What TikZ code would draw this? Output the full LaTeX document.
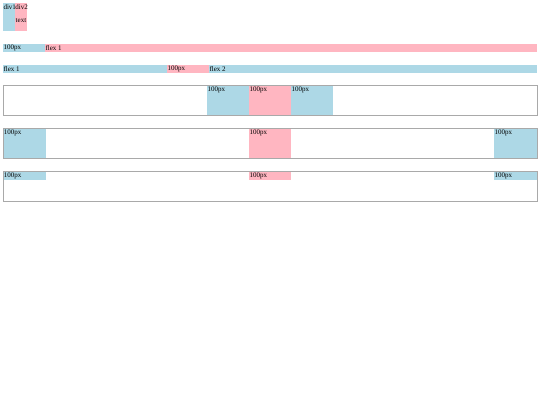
\documentclass[tikz,border=0pt]{standalone}
\usepackage{fontspec}
\setmainfont{Liberation Serif}
\definecolor{lb}{HTML}{ADD8E6}
\definecolor{lp}{HTML}{FFB6C1}
\definecolor{bd}{HTML}{A9A9A9}
\newcommand\bx[7]{%
  \node[blk, fill=#6, minimum width=#4pt, minimum height=#5pt] (#1) at (#2,#3) {};
  \node[txt] (#1t) at ([shift={(0.3,1)}]#1.north west) {#7};}
\begin{document}
\begin{tikzpicture}[x=1pt,y=-1pt,
  blk/.style={rectangle, inner sep=0, outer sep=0, anchor=north west, draw=none},
  txt/.style={anchor=north west, inner sep=0, font=\fontsize{7}{8}\selectfont},
  frame/.style={rectangle, inner sep=0, outer sep=0, anchor=north west, draw=bd, line width=0.8pt}]
\useasboundingbox (0,0) rectangle (540,405);
% row 1
\bx{d1}{3}{3}{12}{28}{lb}{div1}
\bx{d2}{15}{3}{12}{28}{lp}{div2}
\node[txt] (d2b) at (15.5,18.5) {text};
% row 2
\bx{r2a}{3}{44}{42}{8}{lb}{100px}
\bx{r2b}{45}{44}{492}{8}{lp}{flex 1}
% row 3
\bx{r3a}{3}{65}{164}{8}{lb}{flex 1}
\bx{r3b}{167}{65}{42}{8}{lp}{100px}
\bx{r3c}{209}{65}{328}{8}{lb}{flex 2}
% row 4
\node[frame, minimum width=534pt, minimum height=30pt] (f4) at (3,85.5) {};
\bx{r4a}{207}{86}{42}{29}{lb}{100px}
\bx{r4b}{249}{86}{42}{29}{lp}{100px}
\bx{r4c}{291}{86}{42}{29}{lb}{100px}
% row 5
\node[frame, minimum width=534pt, minimum height=30pt] (f5) at (3,128.5) {};
\bx{r5a}{3.5}{129}{42.5}{29}{lb}{100px}
\bx{r5b}{249}{129}{42}{29}{lp}{100px}
\bx{r5c}{494}{129}{42.5}{29}{lb}{100px}
% row 6
\node[frame, minimum width=534pt, minimum height=30pt] (f6) at (3,171.5) {};
\bx{r6a}{3.5}{172}{42.5}{7.5}{lb}{100px}
\bx{r6b}{249}{172}{42}{7.5}{lp}{100px}
\bx{r6c}{494}{172}{42.5}{7.5}{lb}{100px}
\end{tikzpicture}
\end{document}
